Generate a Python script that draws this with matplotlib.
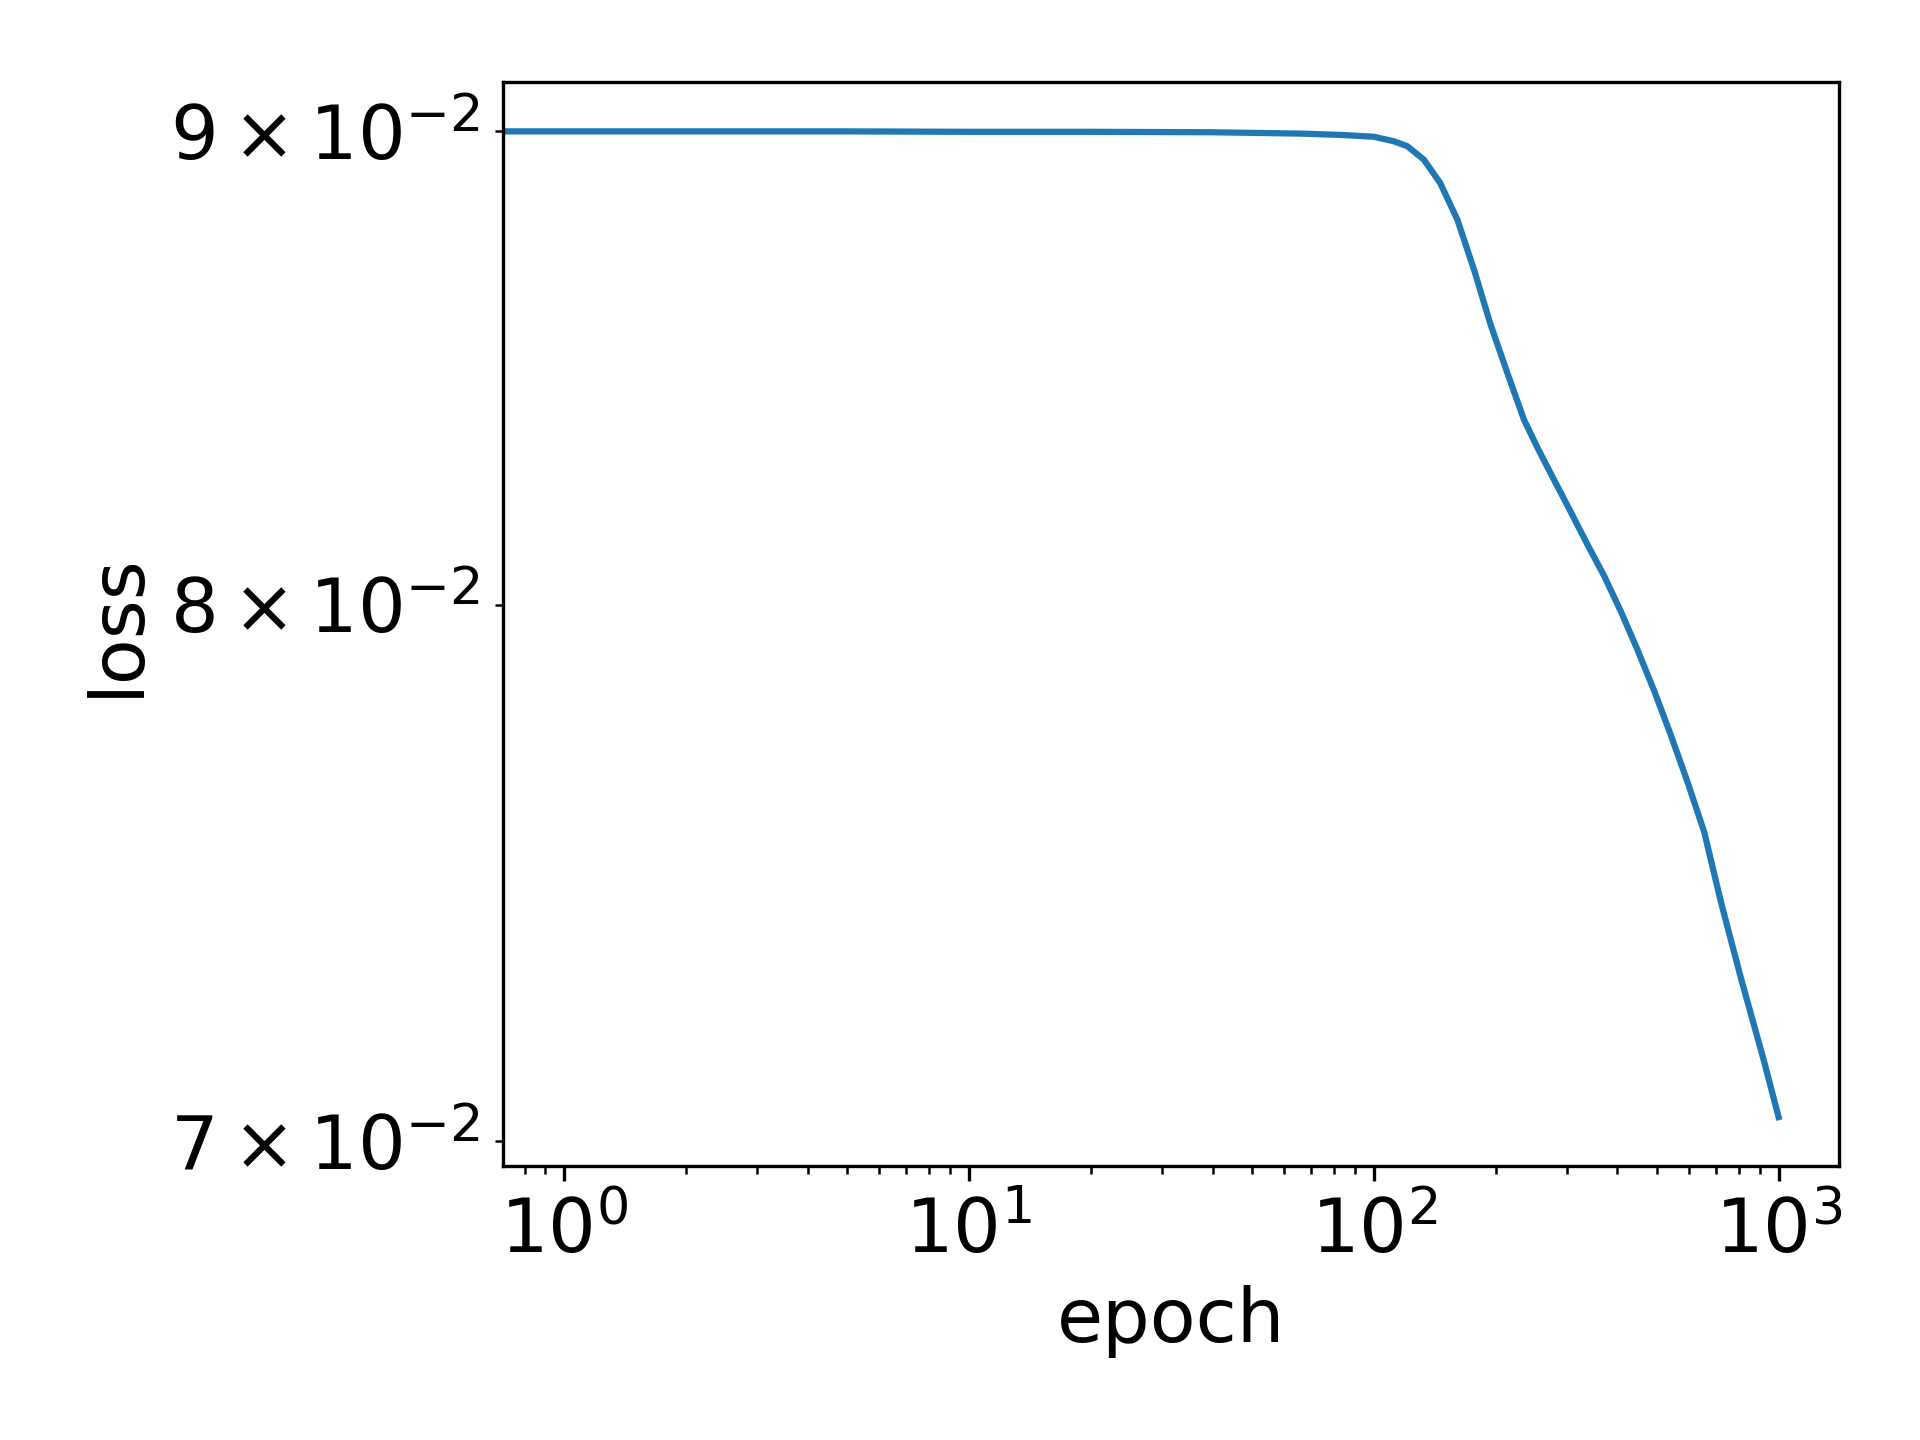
import matplotlib
matplotlib.use("Agg")
import matplotlib.pyplot as plt

plt.rcParams["font.size"] = 18

# loss (epoch 0 keeps the line running to the left edge)
epoch = [0, 1, 2, 5, 10, 20, 40, 66, 83, 100, 112, 121, 133, 146, 161, 177,
         194, 214, 235, 254, 279, 307, 337, 371, 408, 448, 493, 542, 596,
         655, 720, 807, 921, 1000]
loss = [0.09000, 0.09000, 0.09000, 0.09000, 0.08999, 0.08999, 0.08998,
        0.08995, 0.08992, 0.08988, 0.08978, 0.08967, 0.08937, 0.08885,
        0.08804, 0.08695, 0.08580, 0.08474, 0.08377, 0.08318, 0.08252,
        0.08186, 0.08121, 0.08057, 0.07986, 0.07911, 0.07830, 0.07744,
        0.07654, 0.07560, 0.07430, 0.07290, 0.07140, 0.07042]

fig = plt.figure(figsize=(6.4, 4.8), dpi=300)
ax = fig.add_subplot(111)
ax.plot(epoch, loss)
ax.set_xscale("log")
ax.set_yscale("log")
ax.set_xlabel("epoch")
ax.set_ylabel("loss")
fig.subplots_adjust(left=0.262, right=0.958, top=0.943, bottom=0.190)
fig.savefig("out.png", dpi=300)
